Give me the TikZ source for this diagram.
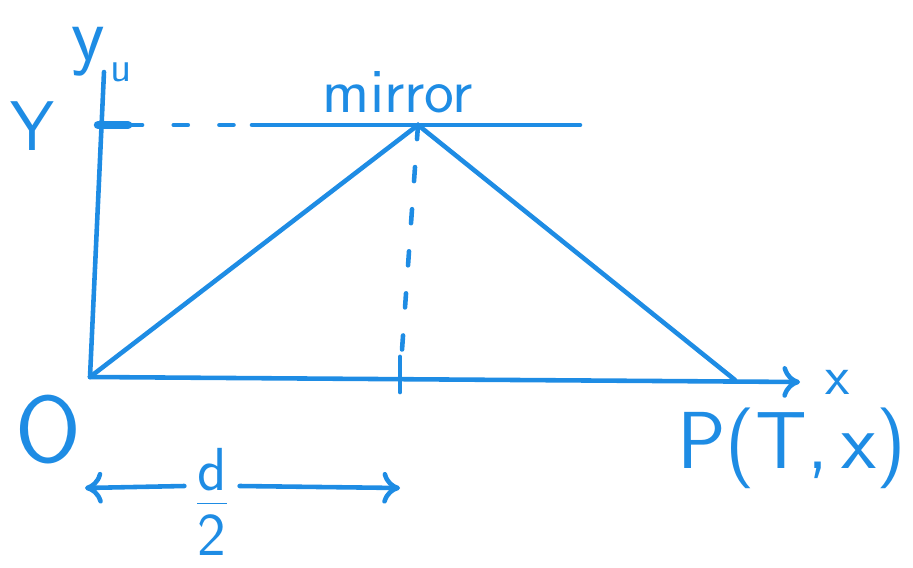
\documentclass[tikz,border=0pt]{standalone}
\usepackage{tikz}
\usetikzlibrary{arrows.meta,positioning}
\definecolor{ink}{RGB}{30,140,228}

\begin{document}
\begin{tikzpicture}[
  x=0.01cm, y=-0.01cm,
  pen/.style={draw=ink, line width=1.3pt, line cap=round},
  lbl/.style={text=ink, font=\sffamily, inner sep=0pt},
  arr/.style={pen, -{To[length=5pt,width=9pt]}},
  dots/.style={pen, dash pattern=on 4pt off 8pt}
]
\useasboundingbox (0,0) rectangle (913,567);

% points
\coordinate (orig) at (90,377);
\coordinate (ytop) at (104,72);
\coordinate (xend) at (800,382);
\coordinate (Ytick) at (98,125);
\coordinate (Ytickr) at (128,125);
\coordinate (mirL) at (252,125);
\coordinate (mirR) at (580,125);
\coordinate (refl) at (418,125);
\coordinate (P) at (735,380);
\coordinate (foot) at (400,378);
\coordinate (dl) at (85,488);
\coordinate (dr) at (400,488);

% labels
\node[lbl, font=\sffamily\fontsize{22}{24}\selectfont] (ylbl) at (88,52) {y};
\node[lbl, font=\sffamily\fontsize{12}{14}\selectfont] (ulbl) at (121,72) {u};
\node[lbl, font=\sffamily\fontsize{20}{22}\selectfont] (Ylbl) at (32,126) {Y};
\node[lbl, font=\sffamily\fontsize{18}{20}\selectfont] (mirror) at (398,92) {mirror};
\node[lbl, font=\sffamily\fontsize{27}{29}\selectfont] (Olbl) at (48,430) {O};
\node[lbl, font=\sffamily\fontsize{16}{18}\selectfont, right=7pt of xend] (xlbl) {x};
\node[lbl, font=\sffamily\fontsize{23}{25}\selectfont] (Plbl) at (792,448) {P(T,\,x)};
\node[lbl, font=\sffamily\fontsize{25}{27}\selectfont] (half) at (212,502) {$\frac{\mathsf{d}}{\mathsf{2}}$};

% axes
\draw[pen] (orig) -- (ytop);
\draw[arr] (orig) -- (xend);
\draw[pen, line width=2.4pt] (Ytick) -- (Ytickr);
\draw[pen, dash pattern=on 4pt off 9pt] (Ytickr) -- (mirL);
\draw[pen] (mirL) -- (mirR);

% light path
\draw[pen] (orig) -- (refl) -- (P);
\draw[dots] (refl) -- (foot);
\draw[pen] ([yshift=6pt]foot) -- ([yshift=-4pt]foot);

% d/2
\draw[arr] (half.west) ++(-8,-16) -- (dl);
\draw[arr] (half.east) ++(8,-16) -- (dr);
\end{tikzpicture}
\end{document}
